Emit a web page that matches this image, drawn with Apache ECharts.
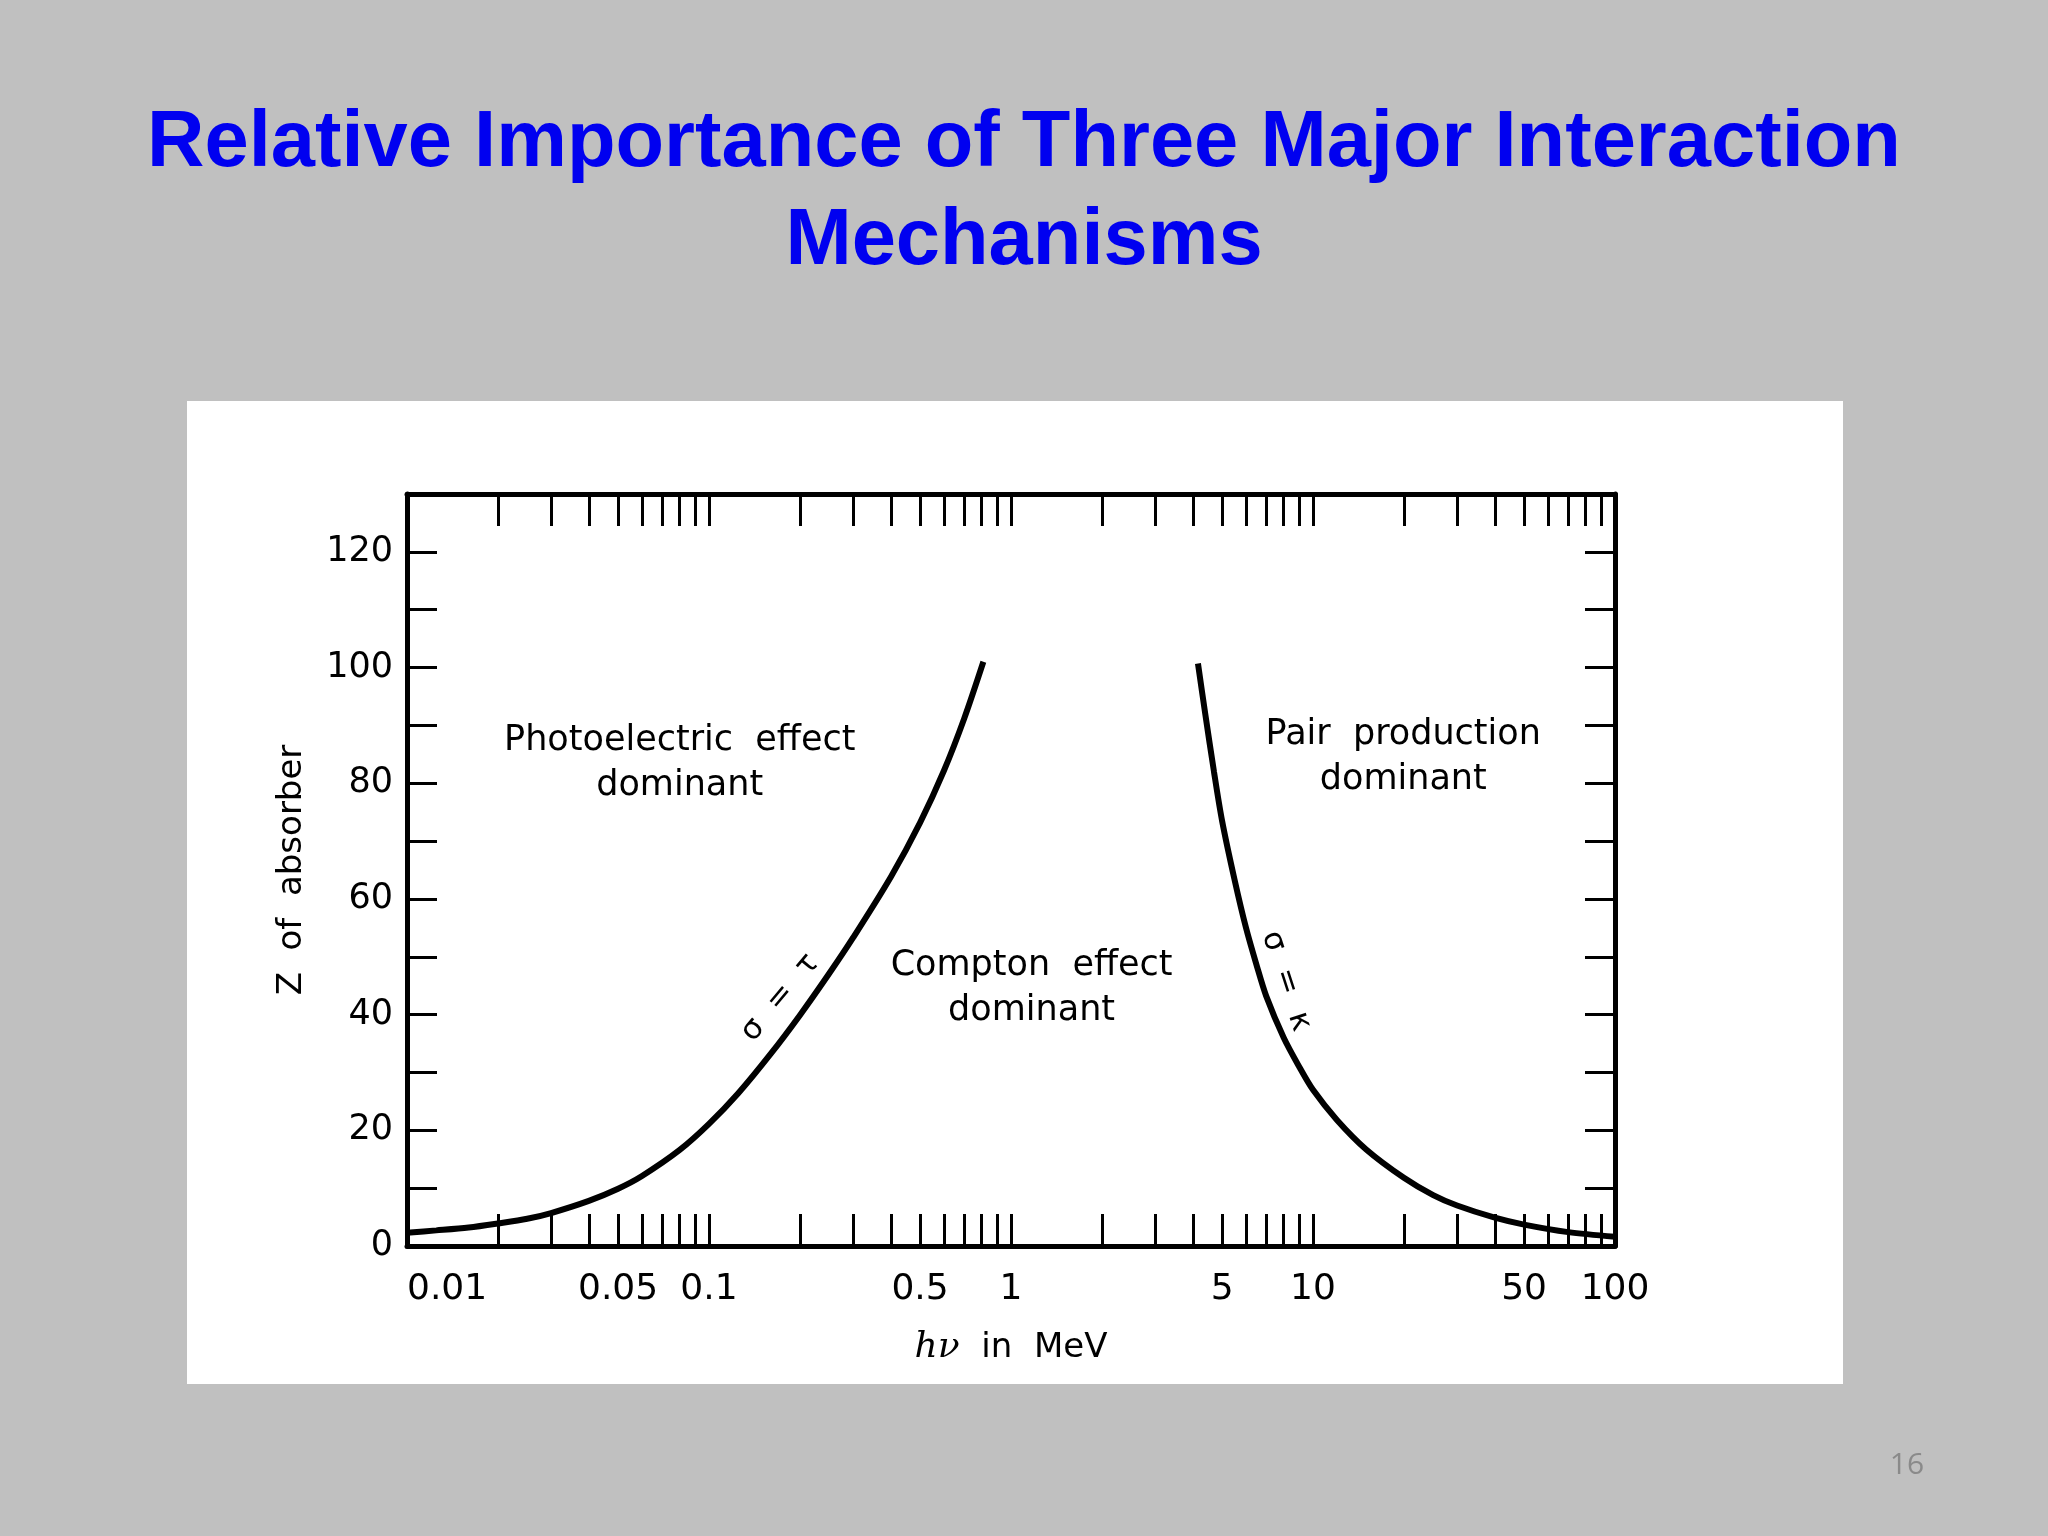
<!DOCTYPE html>
<html>
<head>
<meta charset="utf-8">
<script src="https://cdn.jsdelivr.net/npm/echarts@6/dist/echarts.min.js"></script>
<style>
html,body{margin:0;padding:0;background:#c0c0c0;}
#chart{width:2048px;height:1536px;}
</style>
</head>
<body>
<div id="chart"></div>
<script>
// ---- data ----
// sigma = tau boundary (photoelectric / Compton): photon energy (MeV) and Z
var tauE = [0.01, 0.0125, 0.016, 0.02, 0.025, 0.03, 0.04, 0.05, 0.06, 0.08, 0.1, 0.125, 0.16, 0.2, 0.25, 0.3, 0.4, 0.5, 0.6, 0.7, 0.81];
var tauZ = [2.3, 2.7, 3.2, 3.9, 4.7, 5.7, 7.8, 9.9, 12.1, 16.6, 21.1, 26.4, 33.2, 39.9, 47.1, 53.3, 63.8, 73.2, 82.2, 91.2, 101];
// sigma = kappa boundary (Compton / pair production)
var kapE = [4.16, 4.4, 4.7, 5, 5.5, 6, 6.5, 7, 8, 9, 10, 12, 15, 20, 25, 30, 40, 50, 70, 100];
var kapZ = [100.7, 91.9, 82, 73.5, 63.3, 55, 48.6, 43.2, 36, 31, 27, 21.8, 16.7, 11.8, 8.8, 7.0, 4.9, 3.7, 2.4, 1.6];

// axis tick values and labels
var xLabelValues = [0.01, 0.05, 0.1, 0.5, 1, 5, 10, 50, 100];
var xLabelTexts  = ['0.01', '0.05', '0.1', '0.5', '1', '5', '10', '50', '100'];
var xDecades = [0.01, 0.1, 1, 10];
var xTickValues = [];
xDecades.forEach(function (d) {
  for (var k = 1; k <= 9; k++) xTickValues.push(+(d * k).toPrecision(3));
});
xTickValues.push(100);
var yLabelValues = [0, 20, 40, 60, 80, 100, 120];

// region annotations (energy MeV, Z)
var noteTexts = ['Photoelectric  effect\ndominant', 'Compton  effect\ndominant', 'Pair  production\ndominant', 'σ  =  τ', 'σ  =  κ'];
var noteE = [0.08, 1.17, 19.9, 0.172, 8.15];
var noteZ = [83.4, 44.5, 84.4, 42.9, 45.8];
var noteRotate = [0, 0, 0, 50, -72];

// ---- chart ----
var chart = echarts.init(document.getElementById('chart'));
var FONT = 'DejaVu Sans';

function zip(a, b) { return a.map(function (v, i) { return [v, b[i]]; }); }
function xFmt(v) {
  for (var i = 0; i < xLabelValues.length; i++) {
    if (Math.abs(Math.log10(v) - Math.log10(xLabelValues[i])) < 1e-6) return xLabelTexts[i];
  }
  return '';
}

var tickStyle = { color: '#000', width: 3 };
var lineAxis = { show: true, onZero: false, lineStyle: { color: '#000', width: 5 } };

function xAxisCfg(pos, showLabel) {
  return {
    type: 'log', logBase: 10, min: 0.01, max: 100, position: pos,
    axisLine: lineAxis,
    axisTick: { show: true, inside: true, length: 32, lineStyle: tickStyle, customValues: xTickValues },
    minorTick: { show: false },
    splitLine: { show: false },
    axisLabel: showLabel ? {
      show: true, customValues: xLabelValues, formatter: xFmt, margin: 26,
      fontFamily: FONT, fontSize: 36, color: '#000', alignMinLabel: 'left'
    } : { show: false },
    name: showLabel ? '{i|hν}  in  MeV' : '',
    nameLocation: 'middle', nameGap: 84,
    nameTextStyle: {
      fontFamily: FONT, fontSize: 34, color: '#000',
      rich: { i: { fontFamily: 'DejaVu Serif', fontStyle: 'italic', fontSize: 36, color: '#000' } }
    }
  };
}
function yAxisCfg(pos, showLabel) {
  return {
    type: 'value', min: 0, max: 130, interval: 10, position: pos,
    axisLine: lineAxis,
    axisTick: { show: true, inside: true, length: 30, lineStyle: tickStyle },
    splitLine: { show: false },
    axisLabel: showLabel ? {
      show: true, margin: 14, fontFamily: FONT, fontSize: 35, color: '#000',
      formatter: function (v) { return yLabelValues.indexOf(v) >= 0 ? String(v) : ''; }
    } : { show: false },
    name: showLabel ? 'Z  of  absorber' : '',
    nameLocation: 'middle', nameGap: 98,
    nameTextStyle: { fontFamily: FONT, fontSize: 34, color: '#000' }
  };
}

var notes = noteTexts.map(function (t, i) {
  return {
    value: [noteE[i], noteZ[i]],
    label: {
      show: true, position: 'inside', formatter: t, rotate: noteRotate[i],
      fontFamily: FONT, fontSize: i >= 3 ? 31 : 35, color: '#000', textBorderWidth: 0, opacity: 1,
      lineHeight: 45, align: 'center', verticalAlign: 'middle'
    }
  };
});

chart.setOption({
  backgroundColor: '#c0c0c0',
  animation: false,
  graphic: [
    { type: 'rect', z: -10, shape: { x: 187, y: 401, width: 1656, height: 983 }, style: { fill: '#ffffff' } },
    { type: 'text', x: 1024, y: 144, style: { text: 'Relative Importance of Three Major Interaction', fill: '#0000F0',
      font: 'bold 79.5px "Liberation Sans"', align: 'center', verticalAlign: 'middle' } },
    { type: 'text', x: 1024, y: 242, style: { text: 'Mechanisms', fill: '#0000F0',
      font: 'bold 79.5px "Liberation Sans"', align: 'center', verticalAlign: 'middle' } },
    { type: 'text', x: 1907, y: 1465, style: { text: '16', fill: '#8a8a8a', font: '30px "Open Sans"', align: 'center', verticalAlign: 'middle' } }
  ],
  grid: { left: 407, right: 433, top: 494, bottom: 290, show: false },
  xAxis: [xAxisCfg('bottom', true), xAxisCfg('top', false)],
  yAxis: [yAxisCfg('left', true), yAxisCfg('right', false)],
  series: [
    { type: 'line', name: 'σ = τ', data: zip(tauE, tauZ), smooth: 0.3, showSymbol: false, clip: true,
      lineStyle: { color: '#000', width: 6 } },
    { type: 'line', name: 'σ = κ', data: zip(kapE, kapZ), smooth: 0.3, showSymbol: false, clip: true,
      lineStyle: { color: '#000', width: 6 } },
    { type: 'scatter', data: notes, symbolSize: 0, silent: true, itemStyle: { opacity: 1 } }
  ]
});
</script>
</body>
</html>
